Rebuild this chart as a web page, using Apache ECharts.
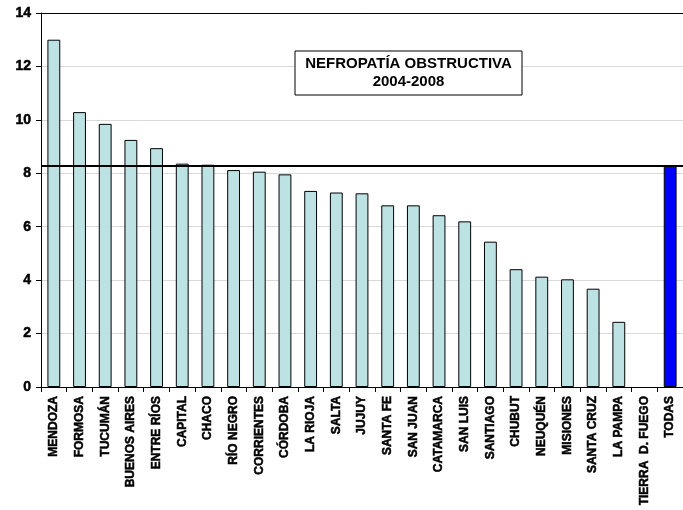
<!DOCTYPE html>
<html>
<head>
<meta charset="utf-8">
<script src="https://cdn.jsdelivr.net/npm/echarts@6/dist/echarts.min.js"></script>
<style>html,body{margin:0;padding:0;background:#fff}#c{width:683px;height:510px}</style>
</head>
<body>
<div id="c"></div>
<script>
const categories = ['MENDOZA','FORMOSA','TUCUMÁN','BUENOS AIRES','ENTRE RÍOS','CAPITAL','CHACO','RÍO NEGRO','CORRIENTES','CÓRDOBA','LA RIOJA','SALTA','JUJUY','SANTA FE','SAN JUAN','CATAMARCA','SAN LUIS','SANTIAGO','CHUBUT','NEUQUÉN','MISIONES','SANTA CRUZ','LA PAMPA','TIERRA  D. FUEGO','TODAS'];
const values = [13.0,10.29,9.85,9.25,8.94,8.36,8.32,8.12,8.06,7.96,7.34,7.28,7.25,6.80,6.80,6.43,6.20,5.44,4.41,4.13,4.03,3.68,2.44,0,8.3];
const totalCategory = 'TODAS';
const referenceValue = 8.3;
const yTicks = [0,2,4,6,8,10,12,14];
const titleLines = ['NEFROPATÍA OBSTRUCTIVA','2004-2008'];

const FONT = 'Arial';
const chart = echarts.init(document.getElementById('c'), null, {renderer:'canvas'});
chart.setOption({
  animation:false,
  backgroundColor:'#fff',
  grid:{left:41,right:0,top:13,bottom:123,containLabel:false},
  xAxis:[{
    type:'category',
    data:categories,
    boundaryGap:true,
    axisLine:{lineStyle:{color:'#000',width:1}},
    axisTick:{show:true,length:5,lineStyle:{color:'#000'}},
    axisLabel:{rotate:90,interval:0,margin:9,color:'#000',fontFamily:FONT,fontSize:12,fontWeight:'bolder',
      textBorderColor:'#000',textBorderWidth:0.5},
    splitLine:{show:false}
  },{
    type:'category',
    data:categories,
    position:'top',
    axisLine:{lineStyle:{color:'#000',width:1}},
    axisTick:{show:false},
    axisLabel:{show:false}
  }],
  yAxis:{
    type:'value',
    min:yTicks[0],max:yTicks[yTicks.length-1],interval:yTicks[1]-yTicks[0],
    axisLine:{show:true,lineStyle:{color:'#000',width:1}},
    axisTick:{show:true,length:5,lineStyle:{color:'#000'}},
    axisLabel:{margin:10,color:'#000',fontFamily:FONT,fontSize:14,fontWeight:'bolder',
      textBorderColor:'#000',textBorderWidth:0.5},
    splitLine:{show:true,lineStyle:{color:'#d9d9d9',width:1}}
  },
  series:[{
    type:'bar',
    barWidth:'50%',
    data:values.map((v,i)=>({
      value:v,
      itemStyle:{color: categories[i]===totalCategory ? '#0000ff' : '#bde2e4', borderColor:'#000', borderWidth: v===0 ? 0 : 1}
    })),
    markLine:{
      silent:true,
      symbol:['none','none'],
      label:{show:false},
      lineStyle:{color:'#000',width:2,type:'solid'},
      data:[{yAxis:referenceValue}]
    },
    z:2
  }],
  graphic:[
    {type:'rect',x:295,y:51,shape:{x:0,y:0,width:227,height:44},style:{fill:'#fff',stroke:'#000',lineWidth:1},z:10},
    {type:'text',x:408.5,y:63.5,z:11,
     style:{text:titleLines[0],align:'center',verticalAlign:'middle',fontFamily:FONT,fontSize:15,fontWeight:'bold',fill:'#000'}},
    {type:'text',x:408.5,y:82,z:11,
     style:{text:titleLines[1],align:'center',verticalAlign:'middle',fontFamily:FONT,fontSize:15,fontWeight:'bold',fill:'#000'}}
  ]
});
</script>
</body>
</html>
